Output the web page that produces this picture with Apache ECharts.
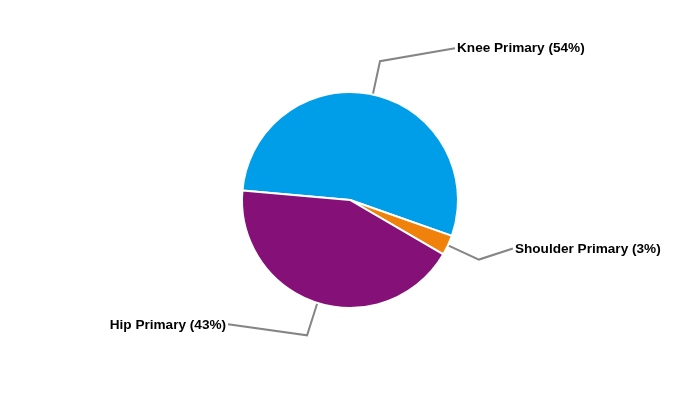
<!DOCTYPE html>
<html><head><meta charset="utf-8">
<script src="https://cdn.jsdelivr.net/npm/echarts@6/dist/echarts.min.js"></script>
<style>html,body{margin:0;padding:0;background:#fff}#c{width:700px;height:400px}</style>
</head><body><div id="c"></div>
<script>
const categories = ['Knee Primary', 'Shoulder Primary', 'Hip Primary'];
const values = [54, 3, 43];
const colors = ['#009EE8', '#F0820C', '#851078'];
// layout-only: horizontal reach and rise of the label-line tail per slice
const tailReach = [75, 34, 79];
const tailRise = [13, 11, 11];

const chart = echarts.init(document.getElementById('c'), null, {renderer: 'canvas'});
chart.setOption({
  animation: false,
  series: [{
    type: 'pie',
    center: ['50%', '50%'],
    radius: 108,
    startAngle: 175,
    clockwise: true,
    data: categories.map((n, i) => ({name: n, value: values[i], itemStyle: {color: colors[i]}})),
    itemStyle: {borderColor: '#fff', borderWidth: 2},
    label: {
      show: true,
      formatter: '{b} ({d}%)',
      fontFamily: 'Liberation Sans, Arial, sans-serif',
      fontWeight: 'bold',
      fontSize: 13.6,
      color: '#000'
    },
    labelLine: {show: true, length: 34, length2: 40, smooth: false,
      lineStyle: {color: '#858585', width: 2}},
    labelLayout: function (p) {
      const pts = p.labelLinePoints;
      if (!pts) return {};
      const right = pts[1][0] >= pts[0][0];
      const i = p.dataIndex;
      const end = [pts[1][0] + (right ? tailReach[i] : -tailReach[i]), pts[1][1] - tailRise[i]];
      return {
        x: end[0] + (right ? 2 : -2),
        y: end[1] + 0.5,
        align: right ? 'left' : 'right',
        verticalAlign: 'middle',
        labelLinePoints: [pts[0], pts[1], end]
      };
    }
  }]
});
</script>
</body></html>
